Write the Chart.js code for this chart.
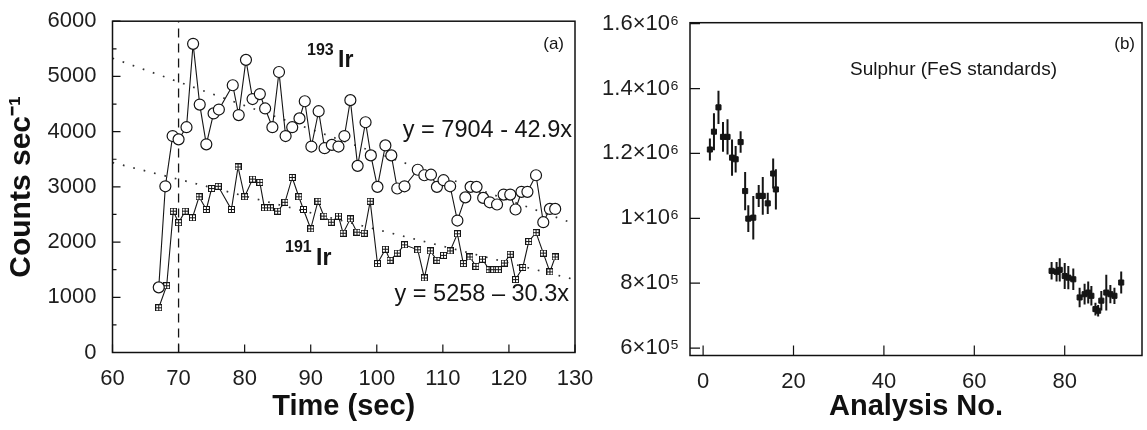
<!DOCTYPE html>
<html><head><meta charset="utf-8">
<script src="https://cdn.jsdelivr.net/npm/chart.js@4"></script>
<style>
html,body{margin:0;padding:0;background:#fff;}
#wrap{position:relative;width:1147px;height:430px;overflow:hidden;background:#fff;}
canvas{position:absolute;top:0;}
#ca{left:0;}
#cb{left:590px;}
</style></head><body>
<div id="wrap"><canvas id="ca" width="610" height="430"></canvas><canvas id="cb" width="557" height="430"></canvas></div>
<script>
// ---------- Panel (a) data ----------
const t193 = [67.0,68.0,69.1,70.0,71.2,72.2,73.2,74.2,75.3,76.1,78.2,79.1,80.2,81.2,82.3,83.1,84.2,85.2,86.2,87.2,88.3,89.1,90.1,91.2,92.1,93.2,94.2,95.1,96.0,97.1,98.3,99.1,100.1,101.3,102.2,103.1,104.2,106.2,107.2,108.2,109.1,110.1,111.1,112.2,113.4,114.2,115.1,116.1,117.1,118.2,119.2,120.2,121.0,121.9,122.8,124.1,125.2,126.2,127.0];
const c193 = [1180,3010,3920,3860,4080,5590,4490,3770,4330,4400,4840,4300,5300,4590,4680,4420,4080,5080,3920,4080,4240,4550,3730,4370,3700,3760,3730,3920,4570,3380,4170,3570,3000,3750,3570,2970,3010,3310,3210,3220,3000,3120,3010,2390,2810,3000,3000,2800,2720,2680,2860,2860,2590,2910,2910,3210,2360,2600,2600];
const t191 = [67.0,68.2,69.2,70.0,71.0,72.1,73.1,74.2,75.0,76.0,78.0,79.0,80.0,81.2,82.3,83.0,83.9,85.0,86.1,87.2,88.2,88.9,90.0,91.1,92.0,93.1,94.2,94.9,96.0,97.0,98.1,99.0,100.1,101.3,102.0,103.1,104.2,106.2,107.2,108.1,109.1,110.1,111.1,112.2,113.1,114.1,115.0,116.0,117.0,117.7,118.4,119.3,120.2,121.0,122.1,123.0,124.1,125.2,126.2,127.0];
const c191 = [810,1210,2560,2350,2560,2440,2820,2590,2970,3010,2590,3360,2820,3140,3080,2620,2620,2560,2720,3170,2820,2590,2240,2740,2470,2360,2470,2160,2420,2180,2160,2740,1610,1870,1670,1800,1950,1860,1350,1840,1670,1760,1840,2150,1610,1730,1560,1690,1500,1500,1500,1620,1780,1320,1540,2010,2170,1800,1460,1730];
// fitted lines (end points of y = 7904 - 42.9x and y = 5258 - 30.3x over 60..130)
const fitX = [60,130];
const fit193 = [5330,2327];
const fit191 = [3440,1319];
const markerTime = 70;
const xTicksA = [60,70,80,90,100,110,120,130];
const yTicksA = [0,1000,2000,3000,4000,5000,6000];
const yMinorA = [500,1500,2500,3500,4500,5500];

// ---------- Panel (b) data ----------
const analysisNo = [1.5,2.4,3.4,4.4,5.4,6.4,7.2,8.3,9.3,10.0,11.1,12.3,13.2,14.3,15.5,16.1,77.1,78.2,78.9,80.0,80.8,81.9,83.3,84.4,85.2,85.9,86.8,87.4,88.1,89.2,90.1,91.0,92.5];
const sulphur = [1212000,1267000,1342000,1251000,1251000,1187000,1182000,1235000,1084000,999000,1002000,1069000,1069000,1046000,1138000,1089000,838000,835000,841000,822000,817000,812000,756000,766000,771000,761000,720000,715000,746000,771000,766000,761000,802000];
const sulphurErr = [34000,57000,51000,46000,54000,56000,41000,33000,59000,41000,67000,34000,58000,33000,46000,62000,27000,30000,36000,40000,36000,33000,30000,32000,34000,30000,20000,18000,30000,55000,28000,25000,34000];
const xTicksB = [0,20,40,60,80];
const yTicksB = [600000,800000,1000000,1200000,1400000,1600000];
const yLabelsB = ['6\u00d710\u2075','8\u00d710\u2075','1\u00d710\u2076','1.2\u00d710\u2076','1.4\u00d710\u2076','1.6\u00d710\u2076'];

const FONT = "'Liberation Sans', Arial, Helvetica, sans-serif";
Chart.defaults.font.family = FONT;
Chart.defaults.color = '#1e1e1e';

function squareGlyph(){
  const c = document.createElement('canvas'); c.width = 7; c.height = 7;
  const g = c.getContext('2d');
  g.fillStyle = '#151515'; g.fillRect(0,0,7,7);
  g.fillStyle = '#fff';
  [[1,1],[4,1],[1,4],[4,4]].forEach(([x,y]) => g.fillRect(x,y,2,2));
  return c;
}
const pts = (xs, ys) => xs.map((x,i) => ({x, y: ys[i]}));

const plugA = {
  id: 'decorA',
  afterDraw(chart){
    const {ctx, chartArea: a, scales: {x, y}} = chart;
    ctx.save();
    ctx.strokeStyle = '#111'; ctx.lineWidth = 1.5;
    ctx.strokeRect(a.left, a.top, a.right - a.left, a.bottom - a.top);
    ctx.lineWidth = 1.2; ctx.beginPath();
    xTicksA.forEach(v => { const p = x.getPixelForValue(v); ctx.moveTo(p, a.bottom); ctx.lineTo(p, a.bottom - 8); });
    yTicksA.forEach(v => { const p = y.getPixelForValue(v); ctx.moveTo(a.left, p); ctx.lineTo(a.left + 8, p); });
    yMinorA.forEach(v => { const p = y.getPixelForValue(v); ctx.moveTo(a.left, p); ctx.lineTo(a.left + 4, p); });
    ctx.stroke();
    ctx.fillStyle = '#151515'; ctx.textBaseline = 'alphabetic';
    ctx.textAlign = 'left';
    ctx.font = 'bold 16px ' + FONT; ctx.fillText('193', 307, 55);
    ctx.font = 'bold 23px ' + FONT; ctx.fillText('Ir', 338, 67);
    ctx.font = 'bold 16px ' + FONT; ctx.fillText('191', 285, 252);
    ctx.font = 'bold 23px ' + FONT; ctx.fillText('Ir', 316, 265);
    ctx.textAlign = 'right';
    ctx.font = '23.5px ' + FONT;
    ctx.fillText('y = 7904 - 42.9x', 572, 137);
    ctx.fillText('y = 5258 \u2013 30.3x', 569, 301);
    ctx.font = '17px ' + FONT;
    ctx.fillText('(a)', 564, 49);
    ctx.restore();
  }
};

new Chart(document.getElementById('ca'), {
  type: 'line',
  data: { datasets: [
    { data: pts(t193, c193), borderColor: '#151515', borderWidth: 1.1, pointRadius: 5.5,
      pointBackgroundColor: '#fff', pointBorderColor: '#151515', pointBorderWidth: 1.2, fill: false },
    { data: pts(t191, c191), borderColor: '#151515', borderWidth: 1.1, pointRadius: 3.5,
      pointStyle: squareGlyph(), fill: false },
    { data: [{x: markerTime, y: 0}, {x: markerTime, y: 6000}], borderColor: '#151515', borderWidth: 1.3,
      borderDash: [9, 6], pointRadius: 0, fill: false },
    { data: pts(fitX, fit193), borderColor: '#333', borderWidth: 1.7, borderDash: [1.7, 9], pointRadius: 0, fill: false },
    { data: pts(fitX, fit191), borderColor: '#333', borderWidth: 1.7, borderDash: [1.7, 9], pointRadius: 0, fill: false }
  ]},
  options: {
    responsive: false, animation: false, devicePixelRatio: 1,
    layout: { padding: { left: 0, top: 20.5, right: 35, bottom: 0 } },
    plugins: { legend: { display: false }, tooltip: { enabled: false } },
    elements: { line: { tension: 0 } },
    scales: {
      x: { type: 'linear', min: 60, max: 130,
        afterBuildTicks(s){ s.ticks = xTicksA.map(v => ({ value: v })); },
        ticks: { font: { size: 22 }, padding: 5, maxRotation: 0, callback: (v) => String(v) },
        grid: { display: false }, border: { display: false },
        title: { display: true, text: 'Time (sec)', font: { size: 29, weight: 'bold' }, color: '#111', padding: { top: 0, bottom: 6 } },
        afterFit(s){ s.height = 77.5; } },
      y: { type: 'linear', min: 0, max: 6000,
        afterBuildTicks(s){ s.ticks = yTicksA.map(v => ({ value: v })); },
        ticks: { font: { size: 22 }, padding: 8, callback: (v) => String(v) },
        grid: { display: false }, border: { display: false },
        title: { display: true, text: 'Counts sec\u207b\u00b9', font: { size: 30, weight: 'bold' }, color: '#111', padding: { top: 4, bottom: 4 } },
        afterFit(s){ s.width = 112.5; } }
    }
  },
  plugins: [plugA]
});

const plugB = {
  id: 'decorB',
  beforeDatasetsDraw(chart){
    const {ctx, scales: {x, y}} = chart;
    ctx.save(); ctx.strokeStyle = '#151515'; ctx.lineWidth = 2; ctx.beginPath();
    analysisNo.forEach((a, i) => {
      const px = x.getPixelForValue(a);
      ctx.moveTo(px, y.getPixelForValue(sulphur[i] + sulphurErr[i]));
      ctx.lineTo(px, y.getPixelForValue(sulphur[i] - sulphurErr[i]));
    });
    ctx.stroke(); ctx.restore();
  },
  afterDraw(chart){
    const {ctx, chartArea: a, scales: {x, y}} = chart;
    ctx.save();
    ctx.strokeStyle = '#111'; ctx.lineWidth = 1.5;
    ctx.strokeRect(a.left, a.top, a.right - a.left, a.bottom - a.top);
    ctx.lineWidth = 1.2; ctx.beginPath();
    xTicksB.forEach(v => { const p = x.getPixelForValue(v); ctx.moveTo(p, a.bottom); ctx.lineTo(p, a.bottom - 10); });
    yTicksB.forEach(v => { const p = y.getPixelForValue(v); ctx.moveTo(a.left, p); ctx.lineTo(a.left + 10, p); });
    ctx.stroke();
    ctx.fillStyle = '#151515'; ctx.textBaseline = 'alphabetic';
    ctx.textAlign = 'left'; ctx.font = '19px ' + FONT;
    ctx.fillText('Sulphur (FeS standards)', 850 - 590, 75);
    ctx.textAlign = 'right'; ctx.font = '17px ' + FONT;
    ctx.fillText('(b)', 1135 - 590, 49);
    ctx.restore();
  }
};

new Chart(document.getElementById('cb'), {
  type: 'scatter',
  data: { datasets: [
    { data: pts(analysisNo, sulphur), pointStyle: 'rect', pointRadius: 3.6,
      pointBackgroundColor: '#151515', pointBorderColor: '#151515', pointBorderWidth: 1, showLine: false }
  ]},
  options: {
    responsive: false, animation: false, devicePixelRatio: 1,
    layout: { padding: { left: 0, top: 22.7, right: 1, bottom: 0 } },
    plugins: { legend: { display: false }, tooltip: { enabled: false } },
    scales: {
      x: { type: 'linear', min: -2.9, max: 97.1,
        afterBuildTicks(s){ s.ticks = xTicksB.map(v => ({ value: v })); },
        ticks: { font: { size: 22 }, padding: 5, maxRotation: 0, callback: (v) => String(v) },
        grid: { display: false }, border: { display: false },
        title: { display: true, text: 'Analysis No.', font: { size: 29, weight: 'bold' }, color: '#111', padding: { top: 0, bottom: 6 } },
        afterFit(s){ s.height = 74.5; } },
      y: { type: 'linear', min: 577000, max: 1603000,
        afterBuildTicks(s){ s.ticks = yTicksB.map(v => ({ value: v })); },
        ticks: { font: { size: 22 }, padding: 3, callback: (v) => yLabelsB[yTicksB.indexOf(v)] },
        grid: { display: false }, border: { display: false },
        afterFit(s){ s.width = 100; } }
    }
  },
  plugins: [plugB]
});
</script>
</body></html>
